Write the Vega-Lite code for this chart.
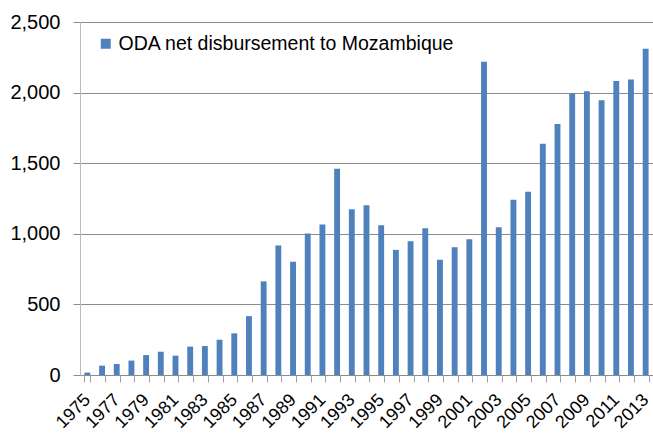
{
  "$schema": "https://vega.github.io/schema/vega-lite/v6.json",
  "width": 573,
  "height": 353,
  "autosize": {"type": "none"},
  "padding": {"left": 80, "top": 22, "right": 0, "bottom": 59},
  "config": {"view": {"stroke": null}, "font": "Liberation Sans"},
  "data": {"values": [
    {"year": 1975, "value": 17}, {"year": 1976, "value": 66}, {"year": 1977, "value": 78},
    {"year": 1978, "value": 102}, {"year": 1979, "value": 141}, {"year": 1980, "value": 165},
    {"year": 1981, "value": 137}, {"year": 1982, "value": 201}, {"year": 1983, "value": 205},
    {"year": 1984, "value": 250}, {"year": 1985, "value": 295}, {"year": 1986, "value": 417},
    {"year": 1987, "value": 663}, {"year": 1988, "value": 917}, {"year": 1989, "value": 802},
    {"year": 1990, "value": 1002}, {"year": 1991, "value": 1065}, {"year": 1992, "value": 1461},
    {"year": 1993, "value": 1173}, {"year": 1994, "value": 1202}, {"year": 1995, "value": 1060},
    {"year": 1996, "value": 886}, {"year": 1997, "value": 948}, {"year": 1998, "value": 1040},
    {"year": 1999, "value": 816}, {"year": 2000, "value": 905}, {"year": 2001, "value": 962},
    {"year": 2002, "value": 2219}, {"year": 2003, "value": 1047}, {"year": 2004, "value": 1242},
    {"year": 2005, "value": 1297}, {"year": 2006, "value": 1637}, {"year": 2007, "value": 1778},
    {"year": 2008, "value": 1993}, {"year": 2009, "value": 2010}, {"year": 2010, "value": 1946},
    {"year": 2011, "value": 2083}, {"year": 2012, "value": 2092}, {"year": 2013, "value": 2311}
  ]},
  "mark": {"type": "bar", "color": "#4F81BD"},
  "encoding": {
    "x": {
      "field": "year", "type": "ordinal",
      "scale": {"paddingInner": 0.6, "paddingOuter": 0.3},
      "axis": {
        "title": null, "labelAngle": -45, "labelAlign": "right", "labelBaseline": "middle",
        "labelFontSize": 18, "labelColor": "#000000",
        "labelExpr": "datum.value % 2 == 1 ? datum.label : ''",
        "tickBand": "extent", "tickSize": 7, "tickColor": "#a0a0a0",
        "domainColor": "#8c8c8c", "labelPadding": 15, "labelOverlap": false, "labelBound": false
      }
    },
    "y": {
      "field": "value", "type": "quantitative",
      "scale": {"domain": [0, 2500]},
      "axis": {
        "title": null, "values": [0, 500, 1000, 1500, 2000, 2500], "format": ",.0f",
        "labelFontSize": 20, "labelColor": "#000000", "gridColor": "#8c8c8c",
        "domainColor": "#bbbbbb", "tickColor": "#8c8c8c", "tickSize": 7, "labelPadding": 13
      }
    },
    "color": {
      "datum": "ODA net disbursement to Mozambique",
      "scale": {"range": ["#4F81BD"]},
      "legend": {
        "title": null, "orient": "none", "legendX": 16, "legendY": 12,
        "symbolType": "square", "symbolSize": 100, "symbolStrokeWidth": 0,
        "labelFontSize": 19.5, "labelColor": "#000000", "labelOffset": 3, "labelLimit": 0, "padding": 0
      }
    }
  }
}
